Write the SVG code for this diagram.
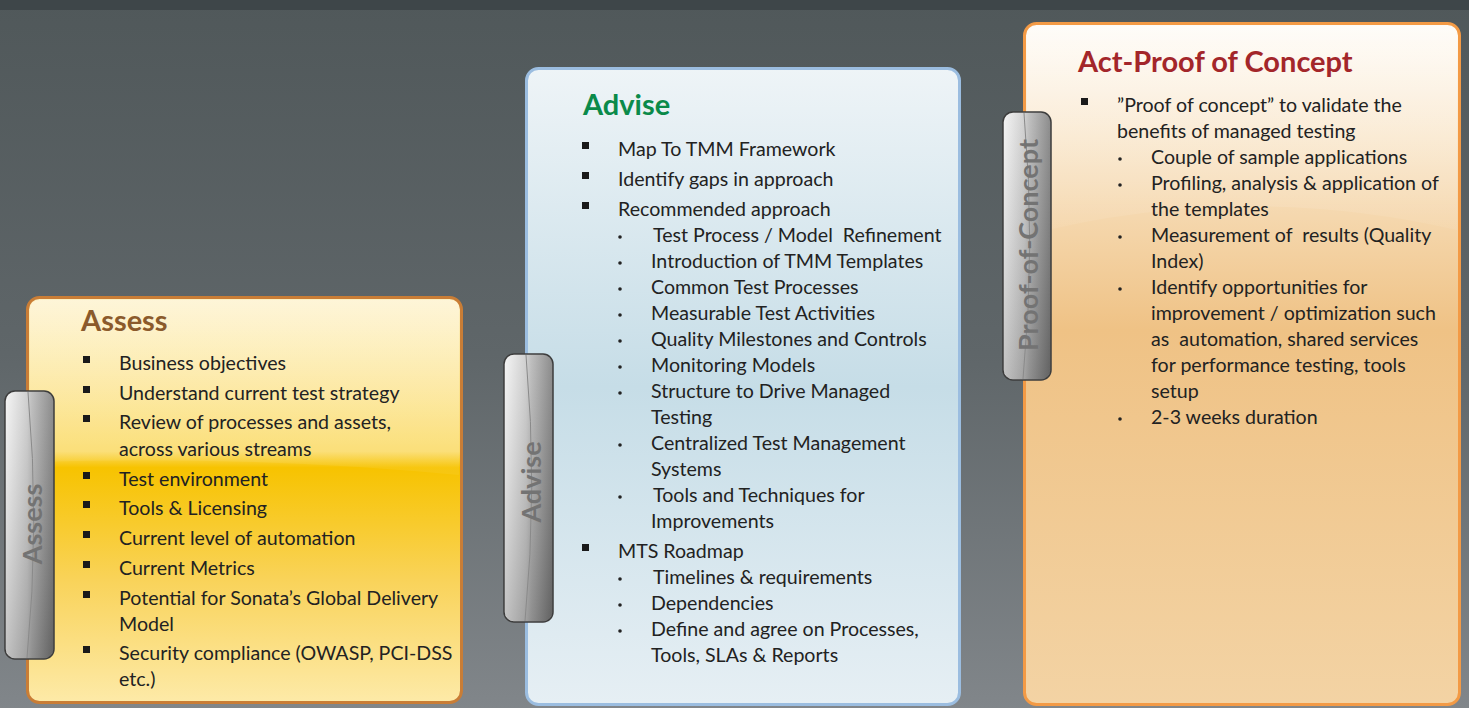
<svg xmlns="http://www.w3.org/2000/svg" width="1469" height="708" viewBox="0 0 1469 708">
<defs>
<linearGradient id="bg" x1="0" y1="0" x2="0" y2="1">
<stop offset="0" stop-color="#50585a"/>
<stop offset="0.5" stop-color="#5f6669"/>
<stop offset="1" stop-color="#81868a"/>
</linearGradient>
<linearGradient id="gA" x1="0" y1="0" x2="0" y2="1">
<stop offset="0" stop-color="#fdf0c4"/>
<stop offset="0.38" stop-color="#fbdc6c"/>
<stop offset="0.42" stop-color="#f7c300"/>
<stop offset="0.7" stop-color="#f9d35a"/>
<stop offset="1" stop-color="#fdeaa8"/>
</linearGradient>
<linearGradient id="gB" x1="0" y1="0" x2="0" y2="1">
<stop offset="0" stop-color="#eef4f7"/>
<stop offset="0.5" stop-color="#c6dde7"/>
<stop offset="1" stop-color="#e6eff4"/>
</linearGradient>
<linearGradient id="gC" x1="0" y1="0" x2="0" y2="1">
<stop offset="0" stop-color="#fefbf6"/>
<stop offset="0.2" stop-color="#f8e2c2"/>
<stop offset="0.45" stop-color="#efc285"/>
<stop offset="1" stop-color="#f3d3a4"/>
</linearGradient>
<linearGradient id="gTab" x1="0" y1="0" x2="1" y2="0">
<stop offset="0" stop-color="#f4f4f4"/>
<stop offset="0.45" stop-color="#c8c8c8"/>
<stop offset="0.55" stop-color="#b4b4b4"/>
<stop offset="1" stop-color="#787878"/>
</linearGradient>
<linearGradient id="gTabV" x1="0" y1="0" x2="0" y2="1">
<stop offset="0" stop-color="#ffffff" stop-opacity="0.15"/>
<stop offset="1" stop-color="#000000" stop-opacity="0.2"/>
</linearGradient>
<linearGradient id="gloss" x1="0" y1="0" x2="0" y2="1">
<stop offset="0" stop-color="#ffffff" stop-opacity="0.35"/>
<stop offset="1" stop-color="#ffffff" stop-opacity="0.05"/>
</linearGradient>
</defs>
<style>
text{font-family:Lato,"Liberation Sans",sans-serif;}
.t{font-size:19.6px;fill:#222222;}
.h{font-size:29px;font-weight:bold;}
.tab{font-size:27px;font-weight:bold;fill:#737373;}
.sq{fill:#1a1a1a;}
.dot{fill:#222222;}
.tabbox{fill:url(#gTab);stroke:#3d3d3d;stroke-width:1.5;}
.tabshade{fill:url(#gTabV);}
.tabline{fill:none;stroke:#8a8a8a;stroke-width:1;}
</style>
<rect x="0" y="0" width="1469" height="708" fill="url(#bg)"/>
<rect x="0" y="0" width="1469" height="10" fill="#3e4649"/>

<g id="assess">
<rect x="27.5" y="297.5" width="434" height="405" rx="12" fill="url(#gA)" stroke="#c97d36" stroke-width="3"/>
<path d="M30,310 Q30,300 40,300 L450,300 Q459,300 459,310 L459,475 Q250,455 30,462 Z" fill="url(#gloss)"/>
<text class="h" x="81" y="331" fill="#8b5a2b">Assess</text>
<rect class="sq" x="83" y="356" width="7" height="7"/><text class="t" x="119" y="370">Business objectives</text>
<rect class="sq" x="83" y="386" width="7" height="7"/><text class="t" x="119" y="400">Understand current test strategy</text>
<rect class="sq" x="83" y="415" width="7" height="7"/><text class="t" x="119" y="429">Review of processes and assets,</text>
<text class="t" x="119" y="456">across various streams</text>
<rect class="sq" x="83" y="472" width="7" height="7"/><text class="t" x="119" y="486">Test environment</text>
<rect class="sq" x="83" y="501" width="7" height="7"/><text class="t" x="119" y="515">Tools &amp; Licensing</text>
<rect class="sq" x="83" y="531" width="7" height="7"/><text class="t" x="119" y="545">Current level of automation</text>
<rect class="sq" x="83" y="561" width="7" height="7"/><text class="t" x="119" y="575">Current Metrics</text>
<rect class="sq" x="83" y="591" width="7" height="7"/><text class="t" x="119" y="605">Potential for Sonata’s Global Delivery</text>
<text class="t" x="119" y="631">Model</text>
<rect class="sq" x="83" y="646" width="7" height="7"/><text class="t" x="119" y="660">Security compliance (OWASP, PCI-DSS</text>
<text class="t" x="119" y="686">etc.)</text>
</g>

<g id="advise">
<rect x="526.5" y="68.5" width="433" height="636" rx="12" fill="url(#gB)" stroke="#9bbde0" stroke-width="3"/>
<text class="h" x="583" y="115" fill="#0a8a4a">Advise</text>
<rect class="sq" x="582" y="142" width="7" height="7"/><text class="t" x="618" y="156">Map To TMM Framework</text>
<rect class="sq" x="582" y="172" width="7" height="7"/><text class="t" x="618" y="186">Identify gaps in approach</text>
<rect class="sq" x="582" y="202" width="7" height="7"/><text class="t" x="618" y="216">Recommended approach</text>
<circle class="dot" cx="620" cy="237" r="1.8"/><text class="t" x="653" y="242" xml:space="preserve">Test Process / Model  Refinement</text>
<circle class="dot" cx="620" cy="263" r="1.8"/><text class="t" x="651" y="268">Introduction of TMM Templates</text>
<circle class="dot" cx="620" cy="289" r="1.8"/><text class="t" x="651" y="294">Common Test Processes</text>
<circle class="dot" cx="620" cy="315" r="1.8"/><text class="t" x="651" y="320">Measurable Test Activities</text>
<circle class="dot" cx="620" cy="341" r="1.8"/><text class="t" x="651" y="346">Quality Milestones and Controls</text>
<circle class="dot" cx="620" cy="367" r="1.8"/><text class="t" x="651" y="372">Monitoring Models</text>
<circle class="dot" cx="620" cy="393" r="1.8"/><text class="t" x="651" y="398">Structure to Drive Managed</text>
<text class="t" x="651" y="424">Testing</text>
<circle class="dot" cx="620" cy="445" r="1.8"/><text class="t" x="651" y="450">Centralized Test Management</text>
<text class="t" x="651" y="476">Systems</text>
<circle class="dot" cx="620" cy="497" r="1.8"/><text class="t" x="653" y="502">Tools and Techniques for</text>
<text class="t" x="651" y="528">Improvements</text>
<rect class="sq" x="582" y="544" width="7" height="7"/><text class="t" x="618" y="558">MTS Roadmap</text>
<circle class="dot" cx="620" cy="579" r="1.8"/><text class="t" x="653" y="584">Timelines &amp; requirements</text>
<circle class="dot" cx="620" cy="605" r="1.8"/><text class="t" x="651" y="610">Dependencies</text>
<circle class="dot" cx="620" cy="631" r="1.8"/><text class="t" x="651" y="636">Define and agree on Processes,</text>
<text class="t" x="651" y="662">Tools, SLAs &amp; Reports</text>
</g>

<g id="act">
<rect x="1024.5" y="23.5" width="435" height="681" rx="12" fill="url(#gC)" stroke="#f39a45" stroke-width="3"/>
<path d="M1027,36 Q1027,26 1037,26 L1447,26 Q1457,26 1457,36 L1457,230 Q1240,180 1027,235 Z" fill="url(#gloss)"/>
<text class="h" x="1078" y="72" fill="#a3262a">Act-Proof of Concept</text>
<rect class="sq" x="1081" y="98" width="7" height="7"/><text class="t" x="1117" y="112">”Proof of concept” to validate the</text>
<text class="t" x="1117" y="138">benefits of managed testing</text>
<circle class="dot" cx="1120" cy="159" r="1.8"/><text class="t" x="1151" y="164">Couple of sample applications</text>
<circle class="dot" cx="1120" cy="185" r="1.8"/><text class="t" x="1151" y="190">Profiling, analysis &amp; application of</text>
<text class="t" x="1151" y="216">the templates</text>
<circle class="dot" cx="1120" cy="237" r="1.8"/><text class="t" x="1151" y="242" xml:space="preserve">Measurement of  results (Quality</text>
<text class="t" x="1151" y="268">Index)</text>
<circle class="dot" cx="1120" cy="289" r="1.8"/><text class="t" x="1151" y="294">Identify opportunities for</text>
<text class="t" x="1151" y="320">improvement / optimization such</text>
<text class="t" x="1151" y="346" xml:space="preserve">as  automation, shared services</text>
<text class="t" x="1151" y="372">for performance testing, tools</text>
<text class="t" x="1151" y="398">setup</text>
<circle class="dot" cx="1120" cy="419" r="1.8"/><text class="t" x="1151" y="424">2-3 weeks duration</text>
</g>

<g id="tab-assess">
<rect class="tabbox" x="5" y="391" width="49" height="268" rx="10"/>
<rect class="tabshade" x="5.8" y="391.8" width="47.4" height="266.4" rx="9.5"/>
<path class="tabline" d="M28,392 Q40,525 27,658"/>
<text class="tab" transform="translate(42,524) rotate(-90)" text-anchor="middle">Assess</text>
</g>
<g id="tab-advise">
<rect class="tabbox" x="504" y="354" width="49" height="268" rx="10"/>
<rect class="tabshade" x="504.8" y="354.8" width="47.4" height="266.4" rx="9.5"/>
<path class="tabline" d="M526,355 Q538,488 525,621"/>
<text class="tab" transform="translate(541,482) rotate(-90)" text-anchor="middle">Advise</text>
</g>
<g id="tab-poc">
<rect class="tabbox" x="1003" y="112" width="48" height="268" rx="10"/>
<rect class="tabshade" x="1003.8" y="112.8" width="46.4" height="266.4" rx="9.5"/>
<path class="tabline" d="M1024,113 Q1036,246 1023,379"/>
<text class="tab" transform="translate(1038,245) rotate(-90)" text-anchor="middle">Proof-of-Concept</text>
</g>
</svg>
